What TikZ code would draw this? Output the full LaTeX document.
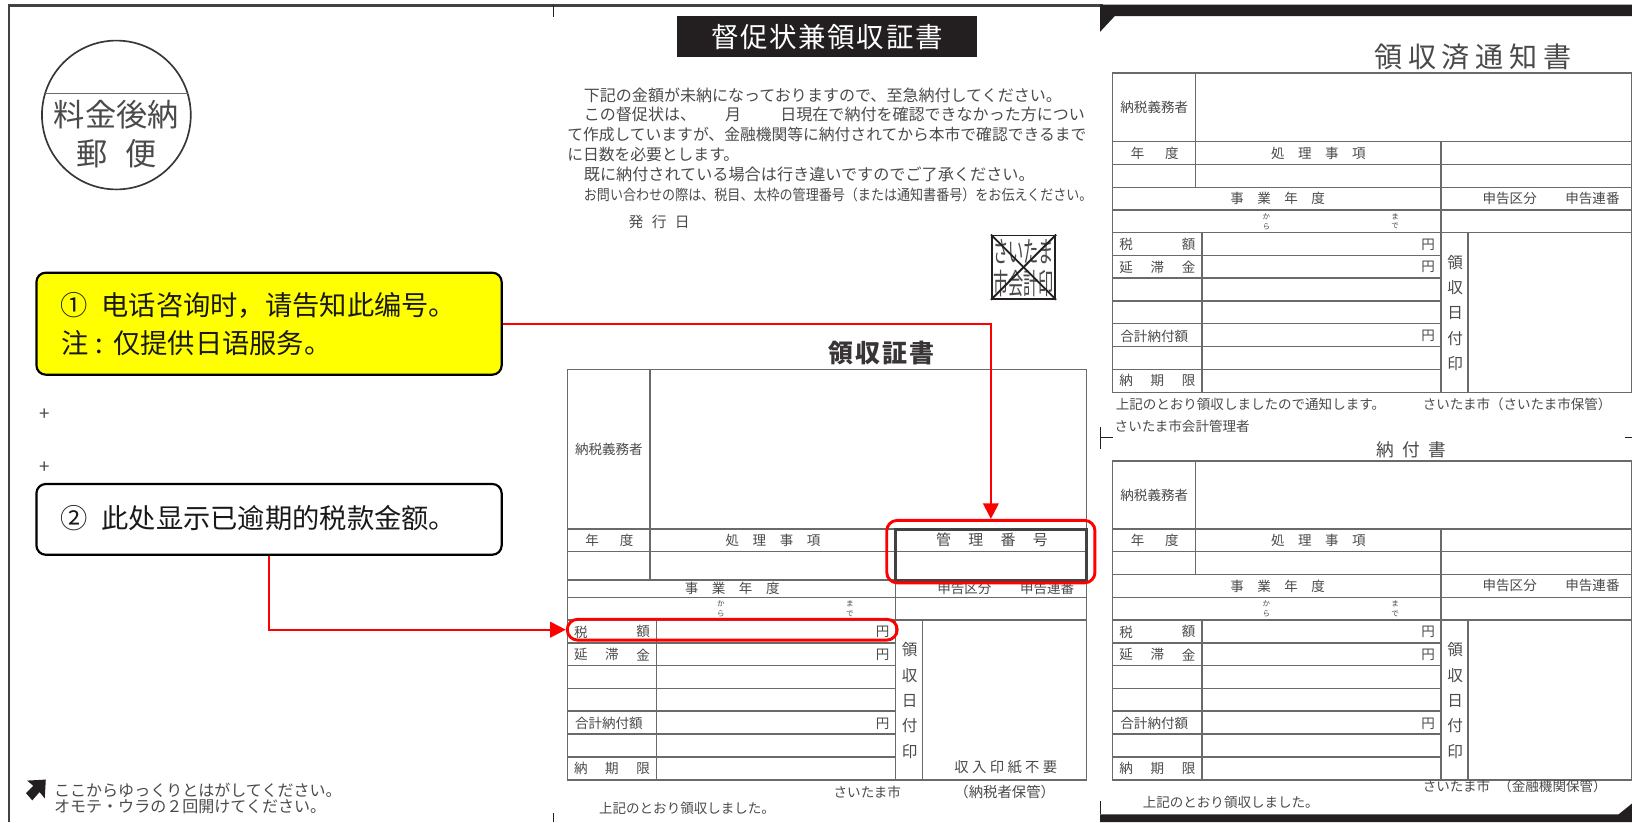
\documentclass[tikz,border=0pt]{standalone}
\usepackage{fontspec}
\setmainfont{Liberation Serif}
\newfontfamily\jp{Noto Sans CJK JP}
\newfontfamily\zh{Noto Sans CJK SC}
\usetikzlibrary{arrows.meta}
\definecolor{ink}{HTML}{231F20}
\definecolor{grayink}{HTML}{4A4A4A}
\definecolor{ruleink}{HTML}{6A6A6A}
\definecolor{callred}{HTML}{FF0000}
\definecolor{callyellow}{HTML}{FFFF00}
\newcommand{\fsz}[1]{\fontsize{#1}{#1}\selectfont}
\newcommand{\fourk}[5]{#2\kern#1 #3\kern#1 #4\kern#1 #5}
\tikzset{
  txt/.style={inner sep=0pt,outer sep=0pt,text=grayink,font=\jp\fsz{6.5}},
  txts/.style={txt,anchor=west},
  tiny/.style={txt,font=\jp\fsz{3.6}},
  big/.style={txt,font=\jp\fsz{7.5}},
  rulel/.style={draw=ruleink,line width=.7pt},
  callout/.style={draw=black,line width=1.05pt,rounded corners=4.5pt,minimum width=223.5pt,inner sep=0pt},
  calltxt/.style={inner sep=0pt,anchor=west,text=black!90,font=\zh\fsz{13.1}},
  redbox/.style={draw=callred,line width=1.4pt,rounded corners=5pt,inner sep=0pt},
  redarrow/.style={draw=callred,line width=1pt,-{Triangle[length=7.5pt,width=7.5pt,fill=callred]}},
}
% #1 left  #2 top  #3 first row line  #4 offset of third line
\newcommand{\formtable}[4]{%
  \pgfmathsetmacro{\xl}{#1}\pgfmathsetmacro{\xa}{#1+79.5}\pgfmathsetmacro{\xb}{#1+86}%
  \pgfmathsetmacro{\xc}{#1+315.5}\pgfmathsetmacro{\xd}{#1+341.5}\pgfmathsetmacro{\xr}{#1+499}%
  \pgfmathsetmacro{\ya}{#3}\pgfmathsetmacro{\yb}{#3+21.8}\pgfmathsetmacro{\yc}{#3+#4}%
  \pgfmathsetmacro{\yd}{#3+65.7}\pgfmathsetmacro{\ye}{#3+87.4}\pgfmathsetmacro{\yf}{#3+241}%
  \pgfmathsetmacro{\yh}{(\yc+\yd)/2}%
  \draw[rulel] (\xl,#2) rectangle (\xr,\yf);
  \draw[rulel] (\xa,#2) -- (\xa,\yc);
  \draw[rulel] (\xc,\ya) -- (\xc,\yf);
  \draw[rulel] (\xd,\ye) -- (\xd,\yf);
  \draw[rulel] (\xb,\ye) -- (\xb,\yf);
  \foreach \yy in {\ya,\yb,\yc,\yd,\ye} {\draw[rulel] (\xl,\yy) -- (\xr,\yy);}
  \foreach \k in {1,...,6} {\pgfmathsetmacro{\yy}{\ye+21.9*\k}\draw[rulel] (\xl,\yy) -- (\xc,\yy);}
  \node[txt] at (#1+40,{(#2+\ya)/2}) {納税義務者};
  \node[txt] at (#1+24,\ya+10.9) {年};
  \node[txt] at (#1+57,\ya+10.9) {度};
  \node[txt] at (#1+197.7,\ya+10.9) {\fourk{6.5pt}{処}{理}{事}{項}};
  \node[txt] at (#1+158.5,\yh) {\fourk{6.5pt}{事}{業}{年}{度}};
  \node[txt] at (#1+381.5,\yh) {申告区分};
  \node[txt] at (#1+461,\yh) {申告連番};
  \node[tiny] at (#1+147.7,\ya+71.8) {か};
  \node[tiny] at (#1+147.7,\ya+81.5) {ら};
  \node[tiny] at (#1+271.5,\ya+71.8) {ま};
  \node[tiny] at (#1+271.5,\ya+81.5) {で};
  \node[txt] at (#1+13,\ya+98.8) {税};
  \node[txt] at (#1+73,\ya+98.8) {額};
  \node[txt] at (#1+303,\ya+98.8) {円};
  \node[txt] at (#1+13,\ya+120.8) {延};
  \node[txt] at (#1+43,\ya+120.8) {滞};
  \node[txt] at (#1+73,\ya+120.8) {金};
  \node[txt] at (#1+303,\ya+120.8) {円};
  \node[txt] at (#1+40,\ya+186.7) {合計納付額};
  \node[txt] at (#1+303,\ya+186.7) {円};
  \node[txt] at (#1+13,\ya+229.8) {納};
  \node[txt] at (#1+43,\ya+229.8) {期};
  \node[txt] at (#1+73,\ya+229.8) {限};
  \node[big] at (#1+329,\ya+116) {領};
  \node[big] at (#1+329,\ya+140.5) {収};
  \node[big] at (#1+329,\ya+165) {日};
  \node[big] at (#1+329,\ya+189.3) {付};
  \node[big] at (#1+329,\ya+213.4) {印};
}
\begin{document}
\begin{tikzpicture}[x=.5pt,y=-.5pt]
\useasboundingbox (0,0) rectangle (1568,789.8);
\clip (0,0) rectangle (1568,789.8);
% sheet frame
\draw[draw=ink!85,line width=1pt] (9,790) -- (9,5.3) -- (1060,5.3);
\fill[ink] (1057,4.5) -- (1568,4.5) -- (1568,15.5) -- (1071,15.5) -- (1057,30.5) -- cycle;
\fill[ink] (1057,790) -- (1057,782.5) -- (1555,782.5) -- (1568,772) -- (1568,790) -- cycle;
\draw[ink,line width=.5pt] (532,5) -- (532,16);
\draw[ink,line width=.5pt] (532,781) -- (532,790);
\draw[ink,line width=.5pt] (1057,410) -- (1057,431.5);
\draw[ink,line width=.5pt] (1057,420.5) -- (1069,420.5);
\draw[ink,line width=.5pt] (1561,420.5) -- (1568,420.5);
\draw[ink,line width=.5pt] (1057,770) -- (1057,782.5);
% postage mark
\node[circle,draw=ink!90,line width=.8pt,minimum size=71.5pt,inner sep=0pt] (postmark) at (111.8,110.5) {};
\draw[ruleink,line width=.6pt] (43,89.7) -- (181,89.7);
\node[txt,font=\jp\fsz{15}] (postA) at (111.8,110.5) {料金後納};
\node[txt,font=\jp\fsz{15}] (postB) at (111.8,148) {郵\kern8.5pt 便};
% left marks
\node[txt,font=\jp\fsz{9}] (plusA) at (43,398) {+};
\node[txt,font=\jp\fsz{9}] (plusB) at (43,449) {+};
% peel note
\fill[ink] (44,749) -- (43,767) -- (38,761) -- (31,769) -- (25,762) -- (32,755) -- (26,750) -- cycle;
\node[txts,font=\jp\fsz{7.7}] (peelA) at (52,759) {ここからゆっくりとはがしてください。};
\node[txts,font=\jp\fsz{7.7}] (peelB) at (52,775.5) {オモテ・ウラの２回開けてください。};
% title
\node[fill=ink,minimum width=144.5pt,minimum height=19.7pt,inner sep=0pt,text=white,font=\jp\fsz{13.2}] (title) at (794.5,35.2) {督\kern.8pt 促\kern.8pt 状\kern.8pt 兼\kern.8pt 領\kern.8pt 収\kern.8pt 証\kern.8pt 書};
% paragraph
\node[txts,font=\jp\fsz{7.7}] (pa) at (561,92) {下記の金額が未納になっておりますので、至急納付してください。};
\node[txts,font=\jp\fsz{7.7}] (pb) at (561,110) {この督促状は、\kern14pt 月\kern18.8pt 日現在で納付を確認できなかった方につい};
\node[txts,font=\jp\fsz{7.58}] (pc) at (545,129) {て作成していますが、金融機関等に納付されてから本市で確認できるまで};
\node[txts,font=\jp\fsz{7.58}] (pd) at (545,148) {に日数を必要とします。};
\node[txts,font=\jp\fsz{7.75}] (pe) at (561,168) {既に納付されている場合は行き違いですのでご了承ください。};
\node[txts,font=\jp\fsz{7.1}] (pf) at (561,187) {\scalebox{.883}[1]{お問い合わせの際は、税目、太枠の管理番号（または通知書番号）をお伝えください。}};
\node[txts,font=\jp\fsz{7.1}] (pg) at (604,213) {発\kern4pt 行\kern4pt 日};
% seal
\node[draw=ink,line width=.8pt,minimum size=30.5pt,inner sep=0pt] (seal) at (983.4,256.7) {};
\node[txt,font=\jp\fsz{7.3},text=grayink] (sealtxtA) at (983.4,241.5) {\scalebox{1}[1.9]{さいたま}};
\node[txt,font=\jp\fsz{7.3},text=grayink] (sealtxtB) at (983.4,272) {\scalebox{1}[1.9]{市会計印}};
\draw[ink,line width=.9pt] (seal.north west) -- (seal.south east);
\draw[ink,line width=.9pt] (seal.north east) -- (seal.south west);
% forms
\node[txt,font=\jp\bfseries\fsz{12},text=ink!90] (tA) at (847,339) {領\kern1pt 収\kern1pt 証\kern1pt 書};
\formtable{545}{355}{508.3}{49}
\node[txt,font=\jp\fsz{7.2}] (kanri) at (953,519) {\fourk{8.3pt}{管}{理}{番}{号}};
\draw[ink!85,line width=1.4pt] (860,508.3) rectangle (1044,557.3);
\node[txts,font=\jp\fsz{6.9}] (stampfree) at (917,737) {収\kern1.6pt 入\kern1.6pt 印\kern1.6pt 紙\kern1.6pt 不\kern1.6pt 要};
\node[txts] (city) at (801,761) {さいたま市};
\node[txts,font=\jp\fsz{6.9}] (hold) at (917,761) {（納税者保管）};
\node[txts] (recv) at (575.6,776.5) {上記のとおり領収しました。};
\node[txt,font=\jp\fsz{13.5}] (tB) at (1415,54.5) {領\kern2.7pt 収\kern2.7pt 済\kern2.7pt 通\kern2.7pt 知\kern2.7pt 書};
\formtable{1069}{70}{136}{44}
\node[txts] (nA) at (1072,388.6) {上記のとおり領収しましたので通知します。};
\node[txts] (nB) at (1367,388.6) {さいたま市（さいたま市保管）};
\node[txts] (nC) at (1071,410) {さいたま市会計管理者};
\node[txt,font=\jp\fsz{8.5}] (tC) at (1356,432) {納\kern4pt 付\kern4pt 書};
\formtable{1069}{443}{508.3}{43.5}
\node[txts] (nD) at (1367,755.8) {さいたま市\kern4pt（金融機関保管）};
\node[txts] (nE) at (1098,771) {上記のとおり領収しました。};
% callouts
\node[callout,fill=callyellow,minimum height=49pt] (noteA) at (258.5,311) {};
\node[calltxt] (noteAa) at (58,293) {①\kern6.5pt 电话咨询时，请告知此编号。};
\node[calltxt] (noteAb) at (59,330) {注\kern3pt :\kern5pt 仅提供日语服务。};
\node[callout,fill=white,minimum height=34pt] (noteB) at (258.5,499) {};
\node[calltxt] (noteBa) at (58,498) {②\kern6.5pt 此处显示已逾期的税款金额。};
\node[redbox,minimum width=100pt,minimum height=30pt] (redA) at (952,530) {};
\node[redbox,minimum width=158.5pt,minimum height=10pt] (redB) at (703.5,605) {};
\draw[redarrow] (noteA.east) -| (redA.north);
\draw[redarrow] (noteB.south) |- (redB.west);
\end{tikzpicture}
\end{document}
